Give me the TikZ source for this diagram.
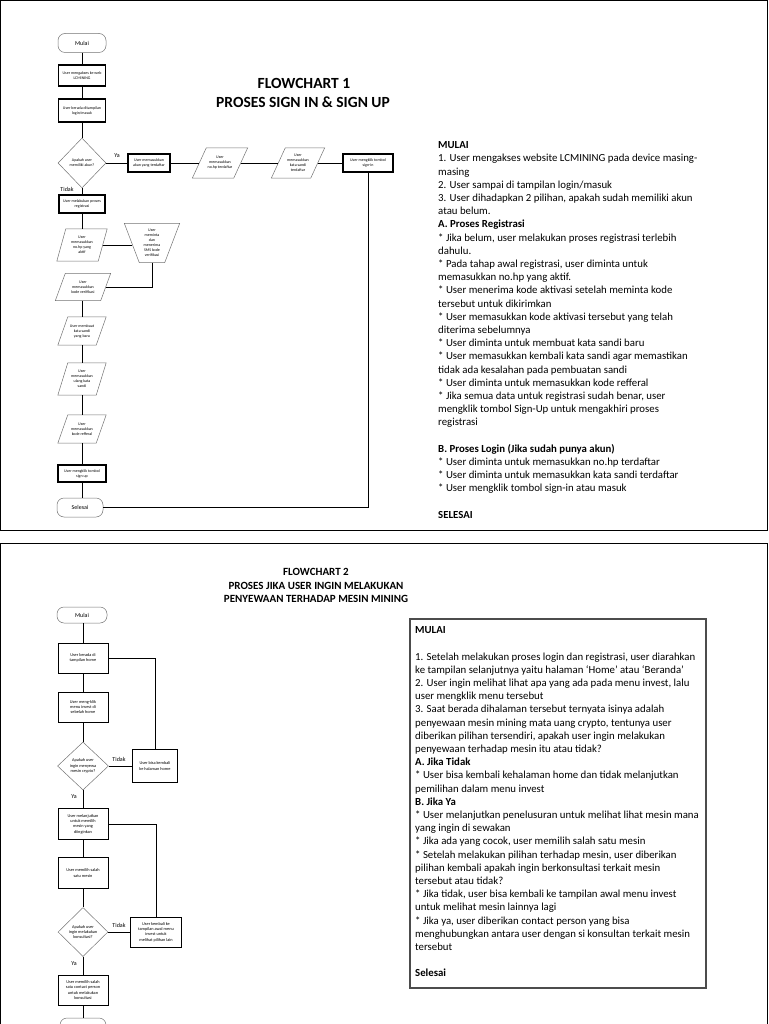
\documentclass[tikz,border=0pt]{standalone}
\usepackage{fontspec}
\setmainfont{Carlito}
\usetikzlibrary{shapes.geometric,calc}
\tikzset{
  box/.style={draw=black, line width=1.1pt, inner sep=0.5pt, align=center, font=\fontsize{4}{5}\selectfont},
  boxb/.style={draw=black, line width=0.9pt, inner sep=0.5pt, align=center, font=\fontsize{4.3}{5.3}\selectfont},
  ptext/.style={inner sep=0.5pt, align=center, font=\fontsize{4}{5}\selectfont},
  pshape/.style={draw=black!55, line width=0.5pt},
  dia/.style={diamond, draw=black!55, line width=0.5pt, inner sep=0pt, align=center, font=\fontsize{4}{5}\selectfont},
  diab/.style={diamond, draw=black!55, line width=0.5pt, inner sep=0pt, align=center, font=\fontsize{4.3}{5.3}\selectfont},
  term/.style={draw=black!55, line width=0.5pt, rounded corners=7pt, inner sep=0pt, font=\fontsize{6}{7}\selectfont},
  conn/.style={draw=black, line width=0.9pt},
  lbl/.style={font=\fontsize{6}{7}\selectfont, inner sep=0.5pt},
  bodytext/.style={font=\fontsize{10.8}{13.2}\selectfont, align=left, anchor=north west, inner sep=0pt},
  titleA/.style={font=\bfseries\fontsize{15.5}{19}\selectfont, inner sep=0pt},
  titleB/.style={font=\bfseries\fontsize{11}{13.5}\selectfont, align=center, inner sep=0pt},
  frame/.style={draw=black, line width=1pt}
}
\newcommand\paranode[7]{%
  \node[ptext, minimum width=#4, minimum height=#5] (#1) at (#2,#3) {#7};
  \draw[pshape] ($(#1.north west)+(#6,0)$) -- ($(#1.north east)+(#6,0)$) -- ($(#1.south east)+(-#6,0)$) -- ($(#1.south west)+(-#6,0)$) -- cycle;}
\begin{document}
\begin{tikzpicture}[x=1pt,y=-1pt]
\useasboundingbox (0,0) rectangle (768,1024);
\clip (0,0) rectangle (768,1024);
% page frames
\draw[frame] (0.5,0.5) rectangle (767.5,530);
\draw[frame] (0.5,543) rectangle (767.5,1034);

% ---------------- FLOWCHART 1 ----------------
\node[titleA] (t1a) at (304,83) {FLOWCHART 1};
\node[titleA] (t1b) at (303,102) {PROSES SIGN IN \& SIGN UP};

\node[term, minimum width=48, minimum height=19] (m1) at (82,43) {Mulai};
\node[box, minimum width=47, minimum height=21] (a1) at (82,75.5) {User mengakses ke web\\LCMINING};
\node[box, minimum width=47, minimum height=23] (a2) at (82,110.5) {User berada ditampilan\\login/masuk};
\node[dia, minimum width=48, minimum height=50] (d1) at (82,163) {Apakah user\\memiliki akun?};
\node[box, minimum width=42, minimum height=18] (y1) at (149,163) {User memasukkan\\akun yang terdaftar};
\paranode{y2}{220}{163}{41}{30}{7}{User\\memasukkan\\no.hp terdaftar}
\paranode{y3}{298}{163}{39}{30}{7}{User\\memasukkan\\kata sandi\\terdaftar}
\node[box, minimum width=50, minimum height=18] (y4) at (368,163) {User mengklik tombol\\sign-in};

\node[box, minimum width=46, minimum height=18] (r1) at (82,204) {User melakukan proses\\registrasi};
\paranode{r2}{82}{245}{41}{32}{4.5}{User\\memasukkan\\no.hp yang\\aktif}
\node[ptext, minimum width=40, minimum height=39] (r3) at (152,243) {User\\meminta\\dan\\menerima\\SMS kode\\verifikasi};
\draw[pshape] ($(r3.north west)+(-7.5,0)$) -- ($(r3.north east)+(7.5,0)$) -- ($(r3.south east)+(-7.5,0)$) -- ($(r3.south west)+(7.5,0)$) -- cycle;
\paranode{r4}{83}{287}{45}{27}{5}{User\\memasukkan\\kode verifikasi}
\paranode{r5}{82}{331}{38}{28}{5}{User membuat\\kata sandi\\yang baru}
\paranode{r6}{82}{379}{38}{32}{5}{User\\memasukkan\\ulang kata\\sandi}
\paranode{r7}{82}{429}{38}{28}{5}{User\\memasukkan\\kode refferal}
\node[box, minimum width=48, minimum height=17] (r8) at (82,473.5) {User mengklik tombol\\sign up};
\node[term, minimum width=46, minimum height=19] (s1) at (80,507.5) {Selesai};

\draw[conn] (m1) -- (a1);
\draw[conn] (a1) -- (a2);
\draw[conn] (a2) -- (d1);
\draw[conn] (d1.east) -- (y1.west);
\draw[conn] (y1.east) -- (y2.west);
\draw[conn] (y2.east) -- (y3.west);
\draw[conn] (y3.east) -- (y4.west);
\draw[conn] (y4.south) |- (s1.east);
\draw[conn] (d1.south) -- (r1.north);
\draw[conn] (r1) -- (r2);
\draw[conn] (r2.east) -- (r2.east -| r3.west);
\draw[conn] (r3.south) |- (r4.east);
\draw[conn] (r4.south -| r5.north) -- (r5.north);
\draw[conn] (r5) -- (r6);
\draw[conn] (r6) -- (r7);
\draw[conn] (r7) -- (r8);
\draw[conn] (r8) -- (s1.north -| r8.south);
\node[lbl] (lya1) at (117,156) {Ya};
\node[lbl] (ltd1) at (67,189) {Tidak};

\node[bodytext] (body1) at (438,141.5) {%
\textbf{MULAI}\\
1. User mengakses website LCMINING pada device masing-\\
masing\\
2. User sampai di tampilan login/masuk\\
3. User dihadapkan 2 pilihan, apakah sudah memiliki akun\\
atau belum.\\
\textbf{A. Proses Registrasi}\\
* Jika belum, user melakukan proses registrasi terlebih\\
dahulu.\\
* Pada tahap awal registrasi, user diminta untuk\\
memasukkan no.hp yang aktif.\\
* User menerima kode aktivasi setelah meminta kode\\
tersebut untuk dikirimkan\\
* User memasukkan kode aktivasi tersebut yang telah\\
diterima sebelumnya\\
* User diminta untuk membuat kata sandi baru\\
* User memasukkan kembali kata sandi agar memastikan\\
tidak ada kesalahan pada pembuatan sandi\\
* User diminta untuk memasukkan kode refferal\\
* Jika semua data untuk registrasi sudah benar, user\\
mengklik tombol Sign-Up untuk mengakhiri proses\\
registrasi\\[13.2pt]
\textbf{B. Proses Login (Jika sudah punya akun)}\\
* User diminta untuk memasukkan no.hp terdaftar\\
* User diminta untuk memasukkan kata sandi terdaftar\\
* User mengklik tombol sign-in atau masuk\\[13.2pt]
\textbf{SELESAI}};

% ---------------- FLOWCHART 2 ----------------
\node[titleB] (t2) at (316,585.5) {FLOWCHART 2\\PROSES JIKA USER INGIN MELAKUKAN\\PENYEWAAN TERHADAP MESIN MINING};

\node[term, minimum width=50, minimum height=16] (m2) at (82,615) {Mulai};
\node[boxb, minimum width=50, minimum height=30] (b1) at (83,658) {User berada di\\tampilan home};
\node[boxb, minimum width=50, minimum height=30] (b2) at (83,707) {User meng-klik\\menu invest di\\sebelah home};
\node[diab, minimum width=51, minimum height=48] (d2) at (83,766) {Apakah user\\ingin menyewa\\mesin crypto?};
\node[boxb, minimum width=45, minimum height=33] (k1) at (155,766) {User bisa kembali\\ke halaman home};
\node[boxb, minimum width=50, minimum height=31] (b3) at (83,824) {User melanjutkan\\untuk memilih\\mesin yang\\diinginkan};
\node[boxb, minimum width=50, minimum height=31] (b4) at (83,873) {User memilih salah\\satu mesin};
\node[diab, minimum width=50, minimum height=49] (d3) at (83,932) {Apakah user\\ingin melakukan\\konsultasi?};
\node[boxb, minimum width=51, minimum height=30] (k2) at (156,932) {User kembali ke\\tampilan awal menu\\invest untuk\\melihat pilihan lain};
\node[boxb, minimum width=50, minimum height=30] (b5) at (83,990) {User memilih salah\\satu contact person\\untuk melakukan\\konsultasi};
\node[term, minimum width=46, minimum height=20] (s2) at (83,1028) {};

\draw[conn] (m2.south -| b1.north) -- (b1);
\draw[conn] (b1) -- (b2);
\draw[conn] (b2) -- (d2);
\draw[conn] (d2) -- (b3);
\draw[conn] (b3) -- (b4);
\draw[conn] (b4) -- (d3);
\draw[conn] (d3) -- (b5);
\draw[conn] (b5) -- (s2);
\draw[conn] (d2.east) -- (k1.west);
\draw[conn] (k1.north) |- (b1.east);
\draw[conn] (d3.east) -- (k2.west);
\draw[conn] (k2.north) |- (b3.east);
\node[lbl] (ltd2) at (119,759) {Tidak};
\node[lbl] (lya2) at (74,797) {Ya};
\node[lbl] (ltd3) at (119,925) {Tidak};
\node[lbl] (lya3) at (74,964) {Ya};

\draw[draw=black!70, line width=1.1pt] (410,619) rectangle (706,988);
\node[bodytext] (body2) at (415,626.5) {%
\textbf{MULAI}\\[13.2pt]
1. Setelah melakukan proses login dan registrasi, user diarahkan\\
ke tampilan selanjutnya yaitu halaman ‘Home’ atau ‘Beranda’\\
2. User ingin melihat lihat apa yang ada pada menu invest, lalu\\
user mengklik menu tersebut\\
3. Saat berada dihalaman tersebut ternyata isinya adalah\\
penyewaan mesin mining mata uang crypto, tentunya user\\
diberikan pilihan tersendiri, apakah user ingin melakukan\\
penyewaan terhadap mesin itu atau tidak?\\
\textbf{A. Jika Tidak}\\
* User bisa kembali kehalaman home dan tidak melanjutkan\\
pemilihan dalam menu invest\\
\textbf{B. Jika Ya}\\
* User melanjutkan penelusuran untuk melihat lihat mesin mana\\
yang ingin di sewakan\\
* Jika ada yang cocok, user memilih salah satu mesin\\
* Setelah melakukan pilihan terhadap mesin, user diberikan\\
pilihan kembali apakah ingin berkonsultasi terkait mesin\\
tersebut atau tidak?\\
* Jika tidak, user bisa kembali ke tampilan awal menu invest\\
untuk melihat mesin lainnya lagi\\
* Jika ya, user diberikan contact person yang bisa\\
menghubungkan antara user dengan si konsultan terkait mesin\\
tersebut\\[13.2pt]
\textbf{Selesai}};
\end{tikzpicture}
\end{document}
